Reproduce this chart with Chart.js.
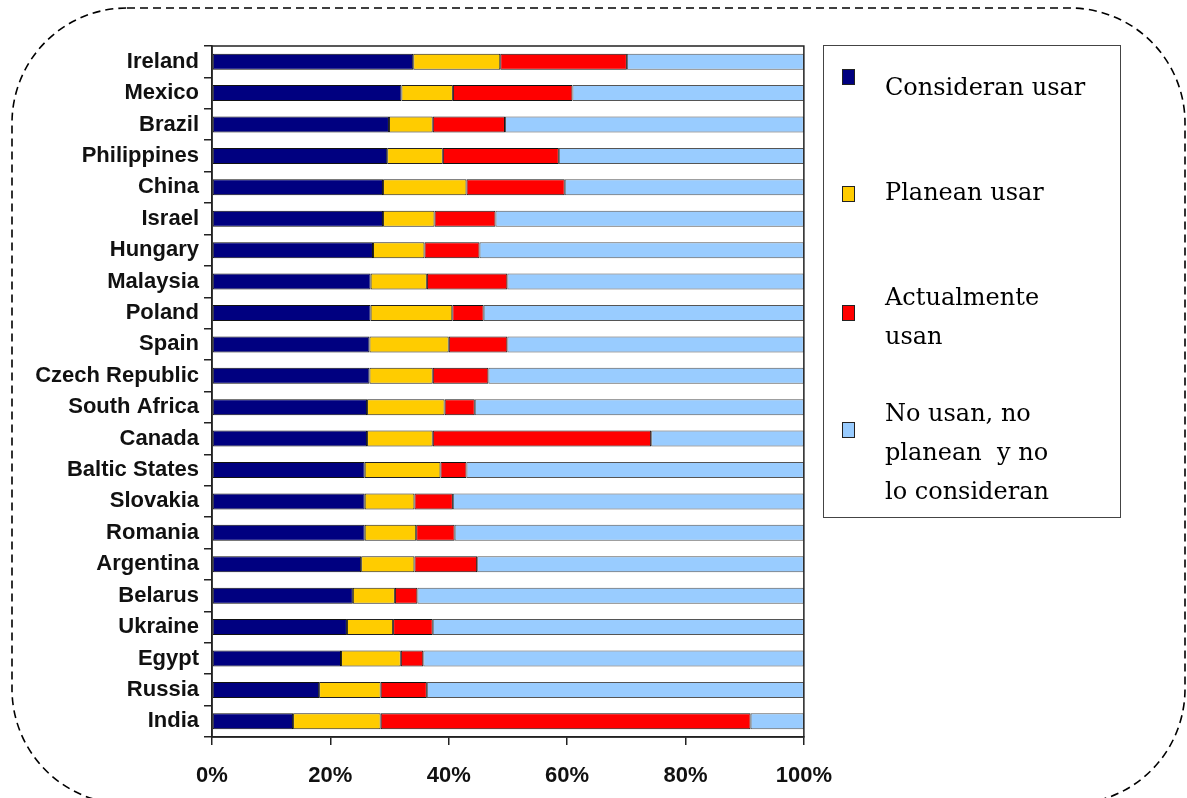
<!DOCTYPE html>
<html>
<head>
<meta charset="utf-8">
<script src="https://cdn.jsdelivr.net/npm/chart.js@4.4.1/dist/chart.umd.min.js"></script>
<style>
  body { margin:0; background:#fff; width:1187px; height:798px; position:relative; overflow:hidden; font-family:"Liberation Sans", Arial, sans-serif; }
  #frame { position:absolute; left:0; top:0; }
  #wrap { position:absolute; left:0; top:0; width:850px; height:798px; }
  #legend { position:absolute; left:823px; top:45px; width:298px; height:473px; border:1px solid #444; box-sizing:border-box; font-family:"DejaVu Serif", serif; font-size:24px; color:#000; }
  .sw { position:absolute; left:18px; width:11px; height:14px; border:1px solid #222; }
  .txt { position:absolute; left:61px; line-height:39px; white-space:pre; }
</style>
</head>
<body>
<svg id="frame" width="1187" height="798">
  <rect x="12" y="8" width="1173" height="796" rx="115" ry="115" fill="none" stroke="#000" stroke-width="1.6" stroke-dasharray="8 5"/>
</svg>
<div id="wrap"><canvas id="chart"></canvas></div>
<div id="legend"></div>
<script>
// ===== Data =====
const countries = ['Ireland','Mexico','Brazil','Philippines','China','Israel','Hungary','Malaysia','Poland','Spain',
  'Czech Republic','South Africa','Canada','Baltic States','Slovakia','Romania','Argentina','Belarus','Ukraine','Egypt','Russia','India'];

const considerUse = [34.0, 32.0, 29.9, 29.6, 28.9, 28.9, 27.2, 26.8, 26.8, 26.6, 26.6, 26.2, 26.2, 25.8, 25.8, 25.8, 25.2, 23.8, 22.8, 21.8, 18.1, 13.7];
const planUse     = [14.7,  8.7,  7.4,  9.4, 14.1,  8.7,  8.7,  9.5, 13.8, 13.4, 10.7, 13.1, 11.1, 12.8,  8.4,  8.7,  9.0,  7.1,  7.8, 10.1, 10.4, 14.8];
const currentUse  = [21.4, 20.2, 12.2, 19.6, 16.6, 10.3,  9.3, 13.6,  5.3,  9.9,  9.4,  5.1, 36.9,  4.4,  6.5,  6.5, 10.6,  3.8,  6.7,  3.8,  7.8, 62.5];
const notUse      = [29.9, 39.1, 50.5, 41.4, 40.4, 52.1, 54.8, 50.1, 54.1, 50.1, 53.3, 55.6, 25.8, 57.0, 59.3, 59.0, 55.2, 65.3, 62.7, 64.3, 63.7,  9.0];

const seriesNames = ['Consideran usar', 'Planean usar', 'Actualmente\nusan', 'No usan, no\nplanean  y no\nlo consideran'];
const xTicks = [0, 20, 40, 60, 80, 100];

const colors  = ['#000080', '#FFCC00', '#FF0000', '#99CCFF'];
const borders = ['#111', '#222', '#111', '#555'];

// ===== Legend (HTML) =====
const legendTextTop = [22, 127, 232, 348];
const legendBoxTop  = [23, 140, 259, 376];
const legend = document.getElementById('legend');
legend.innerHTML = seriesNames.map((name, i) => `
  <div class="sw" style="top:${legendBoxTop[i]}px;background:${colors[i]};"></div>
  <div class="txt" style="top:${legendTextTop[i]}px;">${name}</div>
`).join('');

// ===== Chart =====
const frameBox = {
  id: 'frameBox',
  afterDraw(chart) {
    const { ctx, chartArea: a } = chart;
    ctx.save();
    ctx.strokeStyle = '#222';
    ctx.lineWidth = 1.5;
    ctx.strokeRect(a.left, a.top, a.right - a.left, a.bottom - a.top);
    ctx.restore();
  }
};

const values = [considerUse, planUse, currentUse, notUse];
const labelFont = { family: '"Liberation Sans", Arial', weight: 'bold', size: 22 };

new Chart(document.getElementById('chart'), {
  type: 'bar',
  data: {
    labels: countries,
    datasets: values.map((v, i) => ({
      label: seriesNames[i],
      data: v,
      backgroundColor: colors[i],
      borderColor: borders[i],
      borderWidth: 1,
      borderSkipped: false,
      barPercentage: 0.51,
      categoryPercentage: 1
    }))
  },
  options: {
    indexAxis: 'y',
    responsive: true,
    maintainAspectRatio: false,
    animation: false,
    layout: { padding: { top: 46, right: 29, bottom: 0, left: 0 } },
    plugins: { legend: { display: false }, tooltip: { enabled: false } },
    scales: {
      x: {
        stacked: true,
        min: 0, max: 100,
        afterBuildTicks: s => { s.ticks = xTicks.map(v => ({ value: v })); },
        afterFit: s => { s.height = 61; },
        grid: { drawOnChartArea: false, tickLength: 8, color: '#222', lineWidth: 1.5 },
        border: { color: '#222', width: 1.5 },
        ticks: { callback: v => v + '%', padding: 18, color: '#111', font: labelFont }
      },
      y: {
        stacked: true,
        afterFit: s => { s.width = 212; },
        grid: { offset: true, drawOnChartArea: false, tickLength: 8, color: '#222', lineWidth: 1.5 },
        border: { color: '#222', width: 1.5 },
        ticks: { padding: 5, color: '#111', font: labelFont }
      }
    }
  },
  plugins: [frameBox]
});
</script>
</body>
</html>
